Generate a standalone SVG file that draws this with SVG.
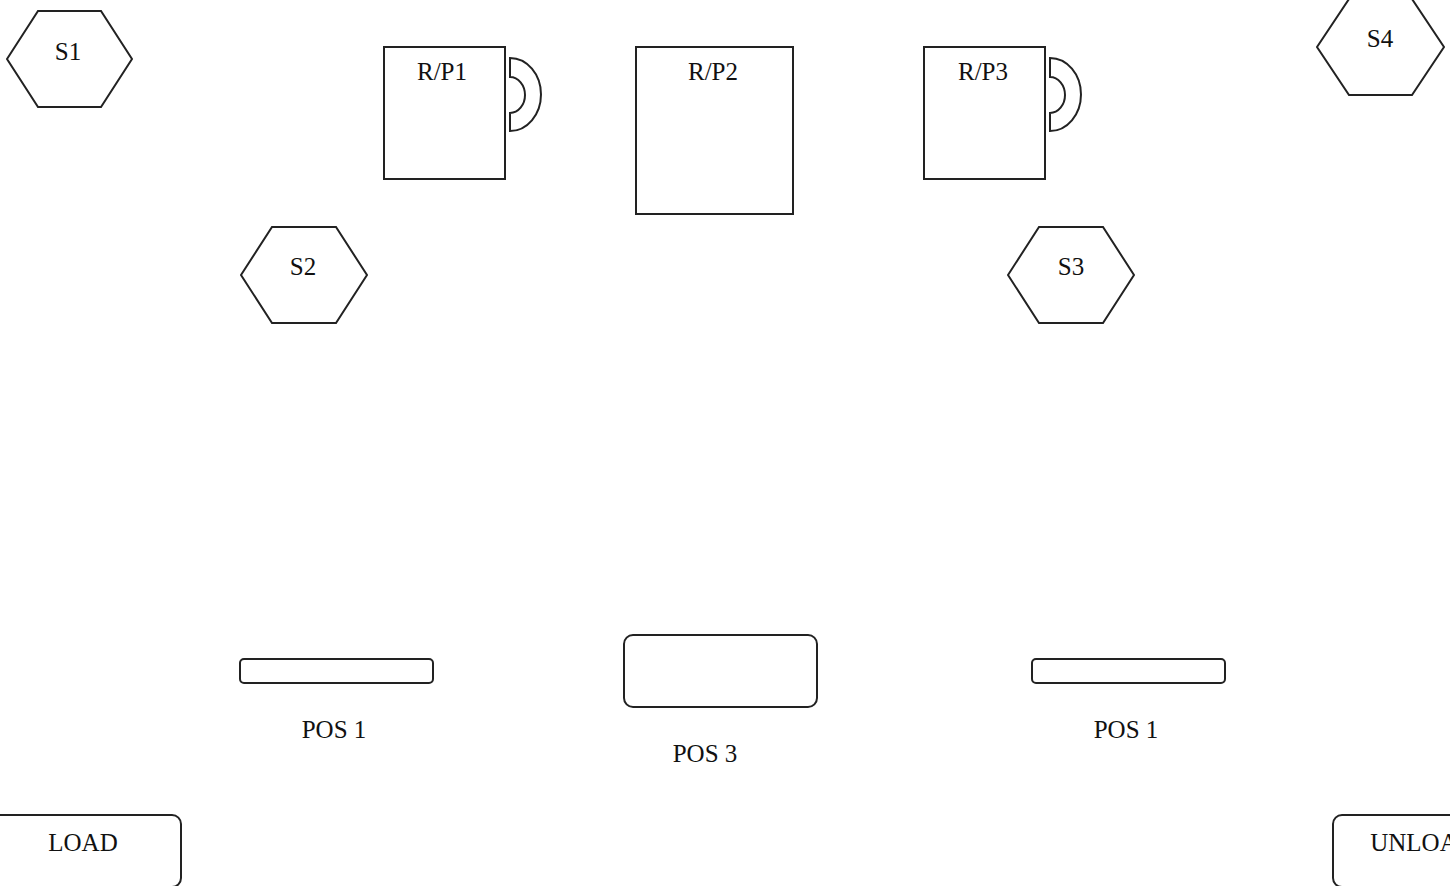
<svg xmlns="http://www.w3.org/2000/svg" width="1450" height="886" viewBox="0 0 1450 886">
<style>
.s{fill:#fff;stroke:#222;stroke-width:2}
.t{font-family:"Liberation Serif","Times New Roman",serif;font-size:25px;fill:#111;text-anchor:middle}
</style>
<rect width="1450" height="886" fill="#fff"/>
<g id="S1"><polygon class="s" points="7,59 38,11 101,11 132,59 101,107 38,107"/><text class="t" x="68" y="60">S1</text></g>
<g id="S4"><polygon class="s" points="1317,47 1349,-1 1412,-1 1444,47 1412,95 1349,95"/><text class="t" x="1380" y="47">S4</text></g>
<g id="S2"><polygon class="s" points="241,275 272,227 336,227 367,275 336,323 272,323"/><text class="t" x="303" y="275">S2</text></g>
<g id="S3"><polygon class="s" points="1008,275 1039,227 1103,227 1134,275 1103,323 1039,323"/><text class="t" x="1071" y="275">S3</text></g>
<g id="RP1"><rect class="s" x="384" y="47" width="121" height="132"/><path class="s" d="M510,58 A31,36.5 0 0 1 510,131 L510,113 A15,18 0 0 0 510,77 Z"/><text class="t" x="442" y="80">R/P1</text></g>
<g id="RP2"><rect class="s" x="636" y="47" width="157" height="167"/><text class="t" x="713" y="80">R/P2</text></g>
<g id="RP3"><rect class="s" x="924" y="47" width="121" height="132"/><path class="s" d="M1050,58 A31,36.5 0 0 1 1050,131 L1050,113 A15,18 0 0 0 1050,77 Z"/><text class="t" x="983" y="80">R/P3</text></g>
<g id="POS1L"><rect class="s" x="240" y="659" width="193" height="24" rx="4"/><text class="t" x="334" y="738">POS 1</text></g>
<g id="POS3"><rect class="s" x="624" y="635" width="193" height="72" rx="9"/><text class="t" x="705" y="762">POS 3</text></g>
<g id="POS1R"><rect class="s" x="1032" y="659" width="193" height="24" rx="4"/><text class="t" x="1126" y="738">POS 1</text></g>
<g id="LOAD"><rect class="s" x="-15" y="815" width="196" height="72" rx="9"/><text class="t" x="83" y="851">LOAD</text></g>
<g id="UNLOAD"><rect class="s" x="1333" y="815" width="180" height="72" rx="9"/><text class="t" x="1423" y="851">UNLOAD</text></g>
<g id="connectors"></g>
</svg>
